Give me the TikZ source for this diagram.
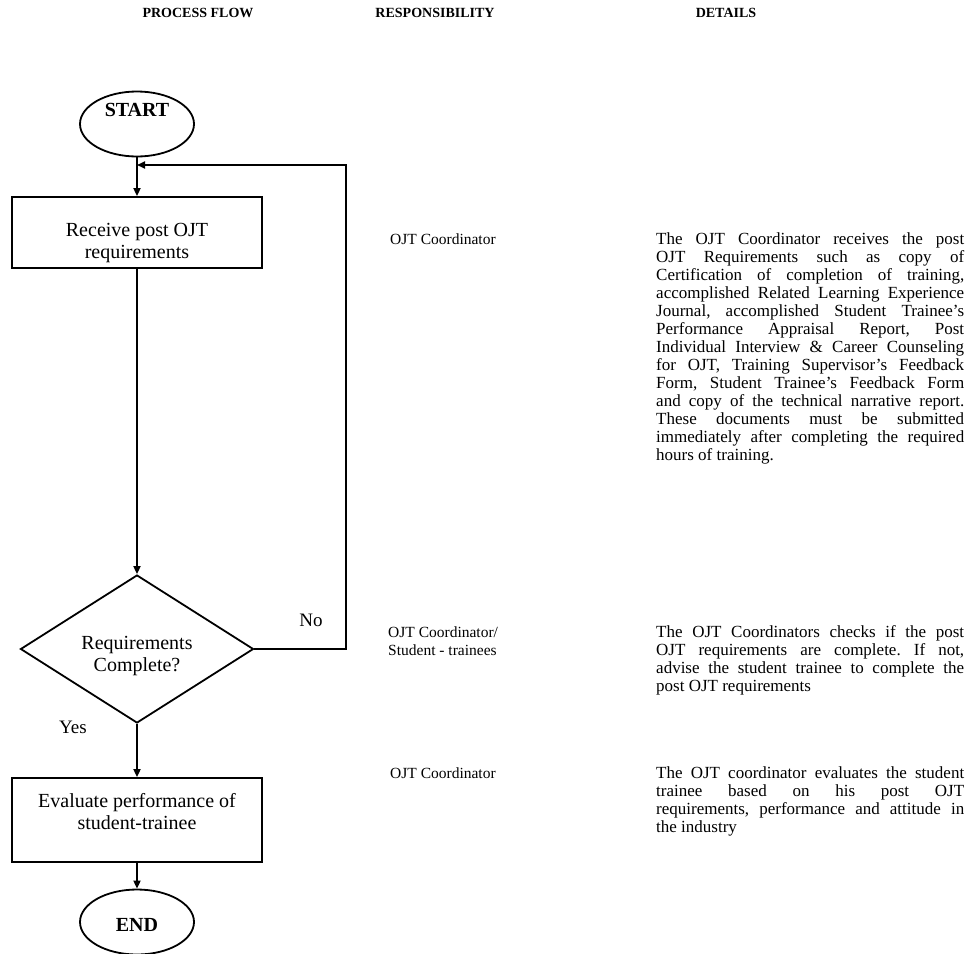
\documentclass[tikz,border=0pt]{standalone}
\usepackage{fontspec}
\setmainfont{Liberation Serif}
\usetikzlibrary{shapes.geometric,arrows.meta}
\hbadness=10000
\hfuzz=20pt
\tolerance=10000
\hyphenpenalty=10000
\frenchspacing
\begin{document}
\begin{tikzpicture}[x=1pt,y=-1pt,
  ln/.style={line width=1.8pt},
  arr/.style={ln,-{Triangle[length=8pt,width=7pt]}},
  term/.style={draw,ellipse,line width=1.8pt,minimum width=114pt,minimum height=65pt,inner sep=0pt},
  proc/.style={draw,rectangle,line width=1.8pt,minimum width=250pt},
  dec/.style={draw,diamond,line width=1.8pt,minimum width=233pt,minimum height=148pt,inner sep=0pt},
  ttext/.style={font=\fontsize{20}{22}\selectfont\bfseries,inner sep=0pt},
  ftext/.style={font=\fontsize{20}{22}\selectfont,align=center,inner sep=0pt},
  head/.style={font=\fontsize{14}{16}\selectfont\bfseries,inner sep=0pt},
  lbl/.style={font=\fontsize{19}{20}\selectfont,inner sep=0pt},
  resp/.style={anchor=north west,inner sep=0pt,align=left,font=\fontsize{15.5}{18}\selectfont},
  det/.style={anchor=north west,inner sep=0pt,text width=308pt,align=justify,font=\fontsize{17}{17.95}\selectfont}
]
\useasboundingbox (0,0) rectangle (968,953);
% headers
\node[head] (h1) at (198,13) {PROCESS FLOW};
\node[head] (h2) at (435,13) {RESPONSIBILITY};
\node[head] (h3) at (726,13) {DETAILS};
% flow
\node[term,label={[ttext,yshift=14pt]center:START}] (start) at (137,124) {};
\node[proc,minimum height=71pt,label={[ftext,yshift=-11pt]center:Receive post OJT\\requirements}] (recv) at (137,232.5) {};
\node[dec,label={[ftext,yshift=-7pt]center:Requirements\\Complete?}] (check) at (137,649) {};
\node[proc,minimum height=84pt,label={[ftext,yshift=8.5pt]center:Evaluate performance of\\student-trainee}] (eval) at (137,820) {};
\node[term,label={[ttext,yshift=-3pt]center:END}] (end) at (137,922) {};
\coordinate (fbR) at (346,649);
\coordinate (fbT) at (346,165);
\coordinate (fbJ) at (137,165);
\draw[arr] (start) -- (recv);
\draw[arr] (recv) -- (check);
\draw[arr] (check) -- (eval);
\draw[arr] (eval) -- (end);
\draw[arr] (check.east) -- (fbR) -- (fbT) -- (fbJ);
\node[lbl] (no) at (311,620) {No};
\node[lbl] (yes) at (73,727) {Yes};
% responsibility
\node[resp] (r1) at (390,234) {OJT Coordinator};
\node[resp] (r2) at (388,627) {OJT Coordinator/\\Student - trainees};
\node[resp] (r3) at (390,768) {OJT Coordinator};
% details
\node[det] (d1) at (656,233) {The OJT Coordinator receives the post\linebreak
OJT Requirements such as copy of\linebreak
Certification of completion of training,\linebreak
accomplished Related Learning Experience\linebreak
Journal, accomplished Student Trainee’s\linebreak
Performance Appraisal Report, Post\linebreak
Individual Interview \& Career Counseling\linebreak
for OJT, Training Supervisor’s Feedback\linebreak
Form, Student Trainee’s Feedback Form\linebreak
and copy of the technical narrative report.\linebreak
These documents must be submitted\linebreak
immediately after completing the required\linebreak
hours of training.};
\node[det] (d2) at (656,625.5) {The OJT Coordinators checks if the post\linebreak
OJT requirements are complete. If not,\linebreak
advise the student trainee to complete the\linebreak
post OJT requirements};
\node[det] (d3) at (656,766.5) {The OJT coordinator evaluates the student\linebreak
trainee based on his post OJT\linebreak
requirements, performance and attitude in\linebreak
the industry};
\end{tikzpicture}
\end{document}
